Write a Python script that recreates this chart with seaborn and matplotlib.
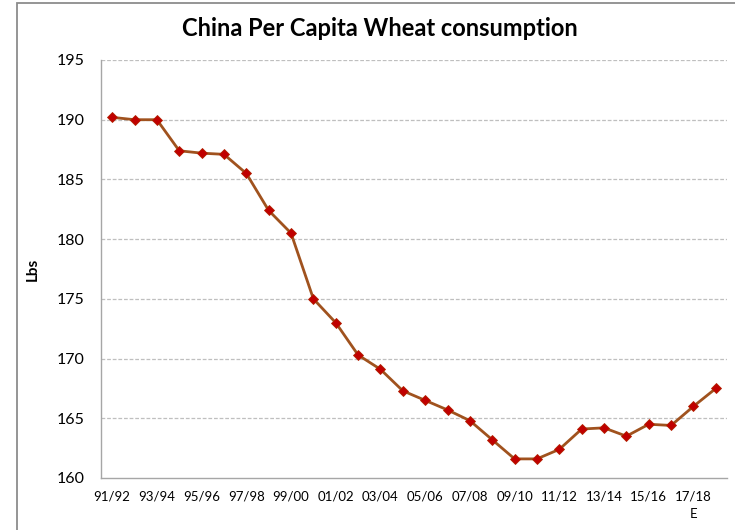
import matplotlib
matplotlib.use("Agg")
import matplotlib.pyplot as plt
from matplotlib.patches import Rectangle
from matplotlib.ticker import FixedLocator, NullFormatter
import seaborn as sns
import pandas as pd

# Marketing years 1991/92 through 2018/19
seasons = ["91/92", "92/93", "93/94", "94/95", "95/96", "96/97", "97/98", "98/99",
           "99/00", "00/01", "01/02", "02/03", "03/04", "04/05", "05/06", "06/07",
           "07/08", "08/09", "09/10", "10/11", "11/12", "12/13", "13/14", "14/15",
           "15/16", "16/17", "17/18", "18/19"]
lbs_per_capita = [190.2, 190.0, 190.0, 187.4, 187.2, 187.1, 185.5, 182.4,
                  180.5, 175.0, 173.0, 170.3, 169.1, 167.3, 166.5, 165.7,
                  164.8, 163.2, 161.6, 161.6, 162.4, 164.1, 164.2, 163.5,
                  164.5, 164.4, 166.0, 167.5]
tick_labels = ["91/92", "93/94", "95/96", "97/98", "99/00", "01/02", "03/04",
               "05/06", "07/08", "09/10", "11/12", "13/14", "15/16", "17/18\nE"]
y_ticks = [160, 165, 170, 175, 180, 185, 190, 195]

df = pd.DataFrame({"season": seasons, "lbs": lbs_per_capita})
df["pos"] = range(len(df))

sns.set_theme(style="white")
plt.rcParams["font.family"] = ["Lato", "DejaVu Sans"]

fig = plt.figure(figsize=(7.35, 5.30), dpi=100)
ax = fig.add_axes([101 / 735, 52 / 530, 626 / 735, 418 / 530])

# outer chart frame
fig.patches.append(Rectangle((16.5 / 735, -0.1), 1.2, 0.1 + 527 / 530,
                             transform=fig.transFigure, fill=False,
                             edgecolor="#8c8c8c", linewidth=1.3))

sns.lineplot(data=df, x="pos", y="lbs", ax=ax, color="#A0521E", linewidth=2.0,
             marker="D", markersize=5.5, markerfacecolor="#C00000",
             markeredgecolor="#B22000", markeredgewidth=0.6)

ax.set_xlim(-0.5, len(seasons) - 0.5)
ax.set_ylim(160, 195)
ax.set_yticks(y_ticks)
ax.set_yticklabels([str(v) for v in y_ticks], fontsize=11.5, color="black")
ax.set_xticks(range(0, len(seasons), 2))
ax.set_xticklabels(tick_labels, fontsize=9.5, linespacing=1.6, va="top", color="black")
ax.tick_params(axis="x", which="major", length=0, pad=9)
ax.xaxis.set_minor_locator(FixedLocator([i - 0.5 for i in range(len(seasons) + 1)]))
ax.xaxis.set_minor_formatter(NullFormatter())
ax.tick_params(axis="x", which="minor", length=5, width=1, color="#a6a6a6", direction="out")
ax.tick_params(axis="y", length=6, width=1, color="#a6a6a6", direction="out", pad=6)

for v in y_ticks[1:]:
    ax.axhline(v, color="#bfbfbf", linestyle=(0, (3, 1.5)), linewidth=0.9, zorder=0)

for side in ("top", "right"):
    ax.spines[side].set_visible(False)
for side in ("left", "bottom"):
    ax.spines[side].set_color("#a6a6a6")
    ax.spines[side].set_linewidth(1.0)

ax.set_xlabel("")
ax.set_ylabel("Lbs", fontsize=11, fontweight="bold", labelpad=12, color="black")
fig.text(380 / 735, 1 - 28 / 530, "China Per Capita Wheat consumption",
         ha="center", va="center", fontsize=17, fontweight="bold", color="black")

fig.savefig("out.png", dpi=100, facecolor="white")
